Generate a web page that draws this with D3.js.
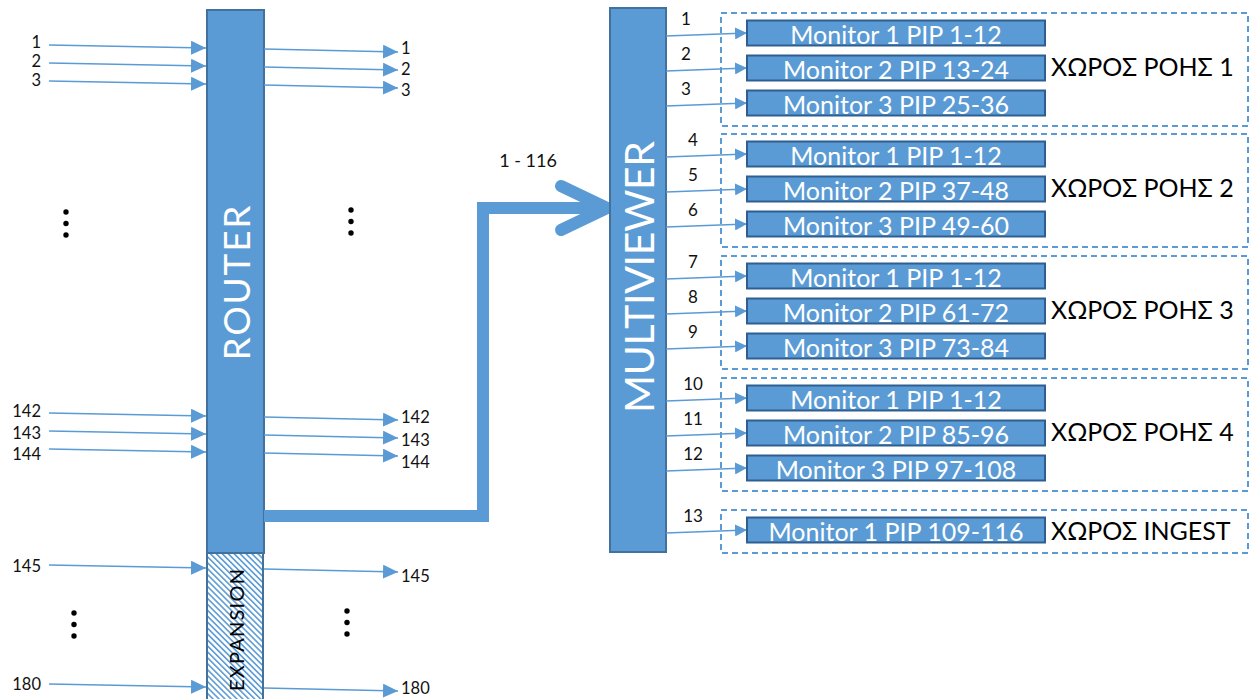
<!DOCTYPE html>
<html><head><meta charset="utf-8">
<script src="https://cdn.jsdelivr.net/npm/d3@7"></script>
<style>html,body{margin:0;padding:0;background:#fff;}svg{display:block;}</style>
</head><body>
<script>
// ---- data ----
const routerPorts = [1, 2, 3, 142, 143, 144];
const expansionPorts = [145, 180];
const portKeys = [1, 3, 142, 144, 145, 180];
const mvChannels = [1,2,3,4,5,6,7,8,9,10,11,12,13];
const monitorLabels = [
  "Monitor 1 PIP 1-12","Monitor 2 PIP 13-24","Monitor 3 PIP 25-36",
  "Monitor 1 PIP 1-12","Monitor 2 PIP 37-48","Monitor 3 PIP 49-60",
  "Monitor 1 PIP 1-12","Monitor 2 PIP 61-72","Monitor 3 PIP 73-84",
  "Monitor 1 PIP 1-12","Monitor 2 PIP 85-96","Monitor 3 PIP 97-108",
  "Monitor 1 PIP 109-116"];
const groupNames = ["ΧΩΡΟΣ ΡΟΗΣ 1","ΧΩΡΟΣ ΡΟΗΣ 2","ΧΩΡΟΣ ΡΟΗΣ 3","ΧΩΡΟΣ ΡΟΗΣ 4","ΧΩΡΟΣ INGEST"];
const groupChannels = [[1,3],[4,6],[7,9],[10,12],[13,13]];
const routerLabel = "ROUTER", expansionLabel = "EXPANSION", mvLabel = "MULTIVIEWER", busLabel = "1 - 116";

// ---- layout ----
const W = 1250, H = 699;
const blue = "#5b9bd5", dark = "#41719c", boxStroke = "#2f5e90";
const font = "Lato, 'Open Sans', sans-serif";
const svg = d3.select("body").append("svg").attr("width", W).attr("height", H);

const defs = svg.append("defs");
const pat = defs.append("pattern").attr("id","hatch").attr("patternUnits","userSpaceOnUse")
  .attr("width",4.2).attr("height",4.2).attr("patternTransform","rotate(-45)");
pat.append("rect").attr("width",4.2).attr("height",4.2).attr("fill","#fff");
pat.append("line").attr("x1",0.8).attr("y1",0).attr("x2",0.8).attr("y2",4.2).attr("stroke",blue).attr("stroke-width",1.6);
function marker(id, L, w){
  defs.append("marker").attr("id",id).attr("viewBox",`0 0 ${L} ${w}`).attr("refX",L).attr("refY",w/2)
    .attr("markerWidth",L).attr("markerHeight",w).attr("markerUnits","userSpaceOnUse").attr("orient","auto")
    .append("path").attr("d",`M0,0L${L},${w/2}L0,${w}Z`).attr("fill",blue);
}
marker("arr", 15, 14);
marker("arrS", 12, 12);

// port scales (piecewise linear)
const yLine = d3.scaleLinear().domain(portKeys).range([45, 81, 413, 449, 565, 684]);
const yLabL = d3.scaleLinear().domain(portKeys).range([42, 80, 411, 454, 566, 684]);
const yLabR = d3.scaleLinear().domain(portKeys).range([48, 90, 417, 462, 576, 688]);

const rX0 = 207, rX1 = 264;
// router box
svg.append("rect").attr("x", rX0).attr("y", 10).attr("width", rX1 - rX0).attr("height", 543)
  .attr("fill", blue).attr("stroke", dark).attr("stroke-width", 2);
svg.append("rect").attr("x", rX0).attr("y", 553).attr("width", rX1 - rX0 - 1).attr("height", 160)
  .attr("fill", "url(#hatch)").attr("stroke", dark).attr("stroke-width", 2);

svg.append("text").attr("transform", `translate(${(rX0+rX1)/2},283) rotate(-90)`)
  .attr("text-anchor","middle").attr("dominant-baseline","central")
  .attr("font-family", font).attr("font-size", 37).attr("fill","#fff").attr("textLength",155).text(routerLabel);
svg.append("text").attr("transform", `translate(${(rX0+rX1)/2},630) rotate(-90)`)
  .attr("text-anchor","middle").attr("dominant-baseline","central")
  .attr("font-family", font).attr("font-size", 20).attr("fill","#000").attr("textLength",122).text(expansionLabel);

const ports = routerPorts.concat(expansionPorts);
const g = svg.append("g");
ports.forEach(p => {
  const yy = yLine(p);
  g.append("line").attr("x1", 49).attr("y1", yy).attr("x2", rX0 - 1).attr("y2", yy + 3)
    .attr("stroke", blue).attr("stroke-width", 1.5).attr("marker-end","url(#arr)");
  g.append("line").attr("x1", rX1).attr("y1", yy + 4).attr("x2", 398).attr("y2", yy + 7)
    .attr("stroke", blue).attr("stroke-width", 1.5).attr("marker-end","url(#arr)");
  g.append("text").attr("x", 41).attr("y", yLabL(p)).attr("text-anchor","end").attr("dominant-baseline","central")
    .attr("font-family", font).attr("font-size", 16.5).attr("fill","#111").text(p);
  g.append("text").attr("x", 401).attr("y", yLabR(p)).attr("text-anchor","start").attr("dominant-baseline","central")
    .attr("font-family", font).attr("font-size", 16.5).attr("fill","#111").text(p);
});

// ellipsis dots
const dotCols = [[66, 212], [351, 210], [74, 613], [347, 611]];
dotCols.forEach(([cx, cy]) => {
  [0, 1, 2].forEach(i => svg.append("circle").attr("cx", cx).attr("cy", cy + i * 11.5).attr("r", 2.7).attr("fill", "#000"));
});

// big bus arrow
const mX0 = 610, mX1 = 666;
svg.append("path").attr("d", `M${rX1},516H483V208H${mX0-4}`)
  .attr("fill","none").attr("stroke", blue).attr("stroke-width", 12);
svg.append("path").attr("d", `M561,186L${mX0-3},208L561,230`)
  .attr("fill","none").attr("stroke", blue).attr("stroke-width", 12)
  .attr("stroke-linecap","round").attr("stroke-linejoin","round");
svg.append("text").attr("x", 528).attr("y", 160).attr("text-anchor","middle").attr("dominant-baseline","central")
  .attr("font-family", font).attr("font-size", 18).attr("fill","#111").text(busLabel);

// multiviewer
svg.append("rect").attr("x", mX0).attr("y", 8).attr("width", mX1 - mX0).attr("height", 544)
  .attr("fill", blue).attr("stroke", dark).attr("stroke-width", 2);
svg.append("text").attr("transform", `translate(${(mX0+mX1)/2},277) rotate(-90)`)
  .attr("text-anchor","middle").attr("dominant-baseline","central")
  .attr("font-family", font).attr("font-size", 41).attr("fill","#fff").attr("textLength",272).text(mvLabel);

// channel scale
const yCh = d3.scaleLinear().domain([1,3,4,6,7,9,10,12,13]).range([33,103,154,224,276,346,398,468,530]);
const bx0 = 747, bx1 = 1045;

// groups
groupChannels.forEach(([a, b], i) => {
  const top = yCh(a) - 20, bot = yCh(b) + 23;
  svg.append("rect").attr("x", 721).attr("y", top).attr("width", 527).attr("height", bot - top)
    .attr("fill","none").attr("stroke", blue).attr("stroke-width", 2).attr("stroke-dasharray","6,4");
  const mid = a === b ? yCh(a) : yCh((a + b) / 2) - 2;
  svg.append("text").attr("x", 1051).attr("y", mid).attr("dominant-baseline","central")
    .attr("font-family", font).attr("font-size", 25).attr("fill","#000").text(groupNames[i]);
});

mvChannels.forEach((c, i) => {
  const cy = yCh(c);
  svg.append("line").attr("x1", mX1).attr("y1", cy + 3).attr("x2", bx0).attr("y2", cy)
    .attr("stroke", blue).attr("stroke-width", 1.5).attr("marker-end","url(#arrS)");
  svg.append("rect").attr("x", bx0).attr("y", cy - 12.5).attr("width", bx1 - bx0).attr("height", 25)
    .attr("fill", blue).attr("stroke", boxStroke).attr("stroke-width", 2);
  svg.append("text").attr("x", (bx0 + bx1) / 2).attr("y", cy + 0.5).attr("text-anchor","middle").attr("dominant-baseline","central")
    .attr("font-family", font).attr("font-size", 25).attr("fill","#fff").text(monitorLabels[i]);
  svg.append("text").attr("x", c <= 3 ? 686 : 693).attr("y", cy - 15).attr("text-anchor","middle").attr("dominant-baseline","central")
    .attr("font-family", font).attr("font-size", 17).attr("fill","#111").text(c);
});
</script>
</body></html>
